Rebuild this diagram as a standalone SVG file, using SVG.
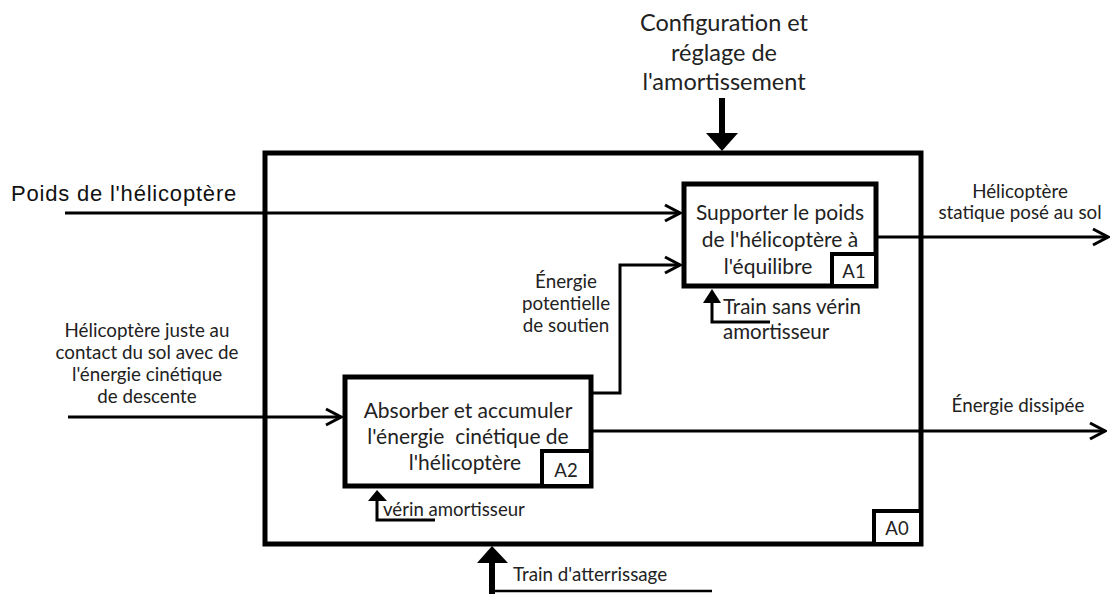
<svg xmlns="http://www.w3.org/2000/svg" width="1111" height="594" viewBox="0 0 1111 594">
<style>
.t{font-family:Lato,"Open Sans","DejaVu Sans",sans-serif;fill:#222;}
.box{fill:#fff;stroke:#000;stroke-width:5;}
.lbl{fill:#fff;stroke:#000;stroke-width:4;}
.c{fill:none;stroke:#000;stroke-width:3;}
.m{fill:none;stroke:#000;stroke-width:2.5;}
</style>
<defs>
<marker id="open" viewBox="0 0 20 20" refX="18" refY="10" markerWidth="20" markerHeight="20" markerUnits="userSpaceOnUse" orient="auto">
<path d="M3,2 L18,10 L3,18" fill="none" stroke="#000" stroke-width="3"/>
</marker>
</defs>
<rect width="1111" height="594" fill="#fff"/>
<g id="A0">
<rect class="box" x="265" y="153" width="656" height="391"/>
<rect class="lbl" x="874" y="511" width="47" height="33"/>
<text class="t" x="897" y="535" font-size="18.5" text-anchor="middle">A0</text>
</g>
<g id="connectors">
<path class="c" d="M65,213 H680" marker-end="url(#open)"/>
<path class="c" d="M68,417 H341" marker-end="url(#open)"/>
<path class="c" d="M592,393 H620 V265 H680" marker-end="url(#open)"/>
<path class="c" d="M876,237 H1108" marker-end="url(#open)"/>
<path class="c" d="M592,431 H1105" marker-end="url(#open)"/>
<rect x="719" y="98" width="6" height="36"/>
<polygon points="706,133 738,133 722,151"/>
<polygon points="477,563 508,563 492,546"/>
<rect x="489" y="562" width="6" height="32"/>
<path class="m" d="M492,591 H712"/>
<polygon points="703,303 721,303 712,289"/>
<path class="c" d="M712,302 V322 H770"/>
<polygon points="368,501 387,501 377,490"/>
<path class="c" d="M377,500 V520 H435"/>
</g>
<g id="A1">
<rect class="box" x="684" y="184" width="192" height="102"/>
<rect class="lbl" x="832" y="254" width="44" height="32"/>
<text class="t" x="854" y="278" font-size="18.5" text-anchor="middle">A1</text>
<text class="t" font-size="21" text-anchor="middle"><tspan x="780" y="220">Supporter le poids</tspan><tspan x="780" y="247">de l'hélicoptère à</tspan><tspan x="768" y="274">l'équilibre</tspan></text>
</g>
<g id="A2">
<rect class="box" x="345" y="377" width="246" height="109"/>
<rect class="lbl" x="542" y="451" width="49" height="35"/>
<text class="t" x="566" y="477" font-size="18.5" text-anchor="middle">A2</text>
<text class="t" font-size="21" text-anchor="middle" xml:space="preserve"><tspan x="468" y="418">Absorber et accumuler</tspan><tspan x="468" y="444">l'énergie  cinétique de</tspan><tspan x="465" y="470">l'hélicoptère</tspan></text>
</g>
<g id="labels">
<text class="t" font-size="23.5" text-anchor="middle"><tspan x="724" y="31">Configuration et</tspan><tspan x="724" y="61">réglage de</tspan><tspan x="724" y="90">l'amortissement</tspan></text>
<text x="11" y="201" font-family="'Liberation Sans',Arial,sans-serif" font-size="22" letter-spacing="0.8" fill="#111">Poids de l'hélicoptère</text>
<text class="t" font-size="18.8" text-anchor="middle"><tspan x="147" y="337">Hélicoptère juste au</tspan><tspan x="147" y="359">contact du sol avec de</tspan><tspan x="147" y="381">l'énergie cinétique</tspan><tspan x="147" y="403">de descente</tspan></text>
<text class="t" font-size="18.8" text-anchor="middle"><tspan x="566" y="288">Énergie</tspan><tspan x="566" y="310">potentielle</tspan><tspan x="566" y="332">de soutien</tspan></text>
<text class="t" font-size="18.8" text-anchor="middle"><tspan x="1020" y="198">Hélicoptère</tspan><tspan x="1020" y="219">statique posé au sol</tspan></text>
<text class="t" x="1018" y="412" font-size="18.8" text-anchor="middle">Énergie dissipée</text>
<text class="t" font-size="20.5"><tspan x="723" y="314">Train sans vérin</tspan><tspan x="723" y="339">amortisseur</tspan></text>
<text class="t" x="383" y="516" font-size="18.6">vérin amortisseur</text>
<text class="t" x="513" y="581" font-size="18.8">Train d'atterrissage</text>
</g>
</svg>
